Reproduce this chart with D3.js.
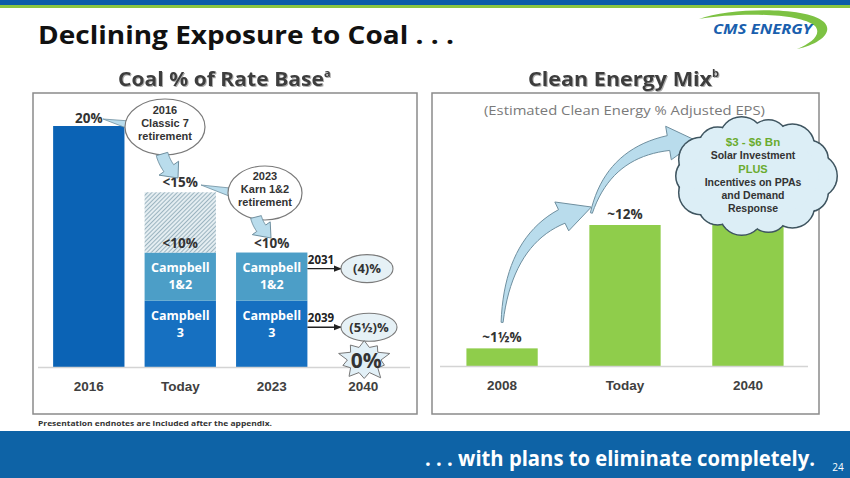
<!DOCTYPE html>
<html>
<head>
<meta charset="utf-8">
<script src="https://cdn.jsdelivr.net/npm/d3@7"></script>
<style>
  body { margin: 0; background: #fff; }
  svg { display: block; font-family: "Open Sans", "DejaVu Sans", sans-serif; }
  .tight { font-family: "Liberation Sans", Arial, sans-serif; }
</style>
</head>
<body>
<svg id="slide" width="850" height="478"></svg>
<script>
// --- data ---
const coalCategories = ["2016", "Today", "2023", "2040"];
const coalOther = [20, 0, 0, 0];          // pre-2016 coal fleet
const coalCampbell3 = [0, 5.5, 5.5, 0];
const coalCampbell12 = [0, 4, 4, 0];
const coalKarn = [0, 5, 0, 0];            // hatched, retires 2023
const coalTopLabels = ["20%", "<15%", "<10%", ""];

const cleanCategories = ["2008", "Today", "2040"];
const cleanValues = [1.5, 12, 15];
const cleanLabels = ["~1\u00BD%", "~12%", ""];

const svg = d3.select("#slide");
const dark = "#333333";
const arrowFill = "#b9dcec";
const arrowStroke = "#6f8f9f";

// hatch pattern
const defs = svg.append("defs");
const hatch = defs.append("pattern")
    .attr("id", "hatch")
    .attr("patternUnits", "userSpaceOnUse")
    .attr("width", 3).attr("height", 3)
    .attr("patternTransform", "rotate(45)");
hatch.append("rect").attr("width", 3).attr("height", 3).attr("fill", "#e4edf1");
hatch.append("line").attr("x1", 0).attr("y1", 0).attr("x2", 0).attr("y2", 3)
    .attr("stroke", "#7c9bab").attr("stroke-width", 1.4);

const shadow = defs.append("filter").attr("id", "tshadow");
shadow.append("feDropShadow").attr("dx", 1).attr("dy", 1).attr("stdDeviation", 0.6)
    .attr("flood-color", "#999").attr("flood-opacity", 0.8);

// --- header ---
svg.append("rect").attr("x", 0).attr("y", 0).attr("width", 850).attr("height", 5).attr("fill", "#0d5ca8");
svg.append("rect").attr("x", 0).attr("y", 5).attr("width", 850).attr("height", 3).attr("fill", "#8cc540");

svg.append("text")
    .attr("x", 38).attr("y", 44)
    .style("font-size", "25px").style("font-weight", "bold").attr("fill", "#111")
    .attr("textLength", 416).attr("lengthAdjust", "spacingAndGlyphs")
    .text("Declining Exposure to Coal . . .");

// logo swoosh
const logo = svg.append("g");
logo.append("path")
    .attr("d", "M699,19 C730,8 805,6 824,22 C834,32 820,44 797,49 C812,43 822,34 815,26 C800,13 738,12 699,19 Z")
    .attr("fill", "#7dc243");
logo.append("text")
    .attr("x", 713).attr("y", 34)
    .style("font-size", "14px").style("font-weight", "bold").style("font-style", "italic")
    .attr("fill", "#1a5fae")
    .attr("textLength", 99).attr("lengthAdjust", "spacingAndGlyphs")
    .text("CMS ENERGY");

// section headings
function heading(x0, width, label, sup) {
    const t = svg.append("text")
        .attr("x", x0).attr("y", 86)
        .attr("filter", "url(#tshadow)")
        .style("font-weight", "bold").attr("fill", "#3d3d3d");
    t.append("tspan").style("font-size", "19px")
        .attr("textLength", width).attr("lengthAdjust", "spacingAndGlyphs").text(label);
    t.append("tspan").attr("dy", -9).style("font-size", "11px").text(sup);
}
heading(118, 206, "Coal % of Rate Base", "a");
heading(528, 184, "Clean Energy Mix", "b");

// panel boxes
[[33, 93, 384, 321], [432, 93, 387, 321]].forEach(([x, y, w, h]) => {
    svg.append("rect").attr("x", x).attr("y", y).attr("width", w).attr("height", h)
        .attr("fill", "#fff").attr("stroke", "#8a8a8a").attr("stroke-width", 1.5);
});

// --- left chart: coal % of rate base ---
const xCoal = d3.scaleBand().domain(coalCategories).range([33, 419]).paddingInner(0.22).paddingOuter(0.22);
const yCoal = d3.scaleLinear().domain([0, 20]).range([367, 126]);

const coalRows = coalCategories.map((c, i) => ({
    cat: c, campbell3: coalCampbell3[i], campbell12: coalCampbell12[i], karn: coalKarn[i], other: coalOther[i]
}));
const coalKeys = ["campbell3", "campbell12", "karn", "other"];
const coalFill = { campbell3: "#1670c1", campbell12: "#4c9ec7", karn: "url(#hatch)", other: "#0b63b5" };
const coalStack = d3.stack().keys(coalKeys)(coalRows);

const gCoal = svg.append("g");
coalStack.forEach(layer => {
    gCoal.selectAll(null).data(layer.filter(d => d[1] > d[0])).enter().append("rect")
        .attr("x", d => xCoal(d.data.cat))
        .attr("width", xCoal.bandwidth())
        .attr("y", d => yCoal(d[1]))
        .attr("height", d => yCoal(d[0]) - yCoal(d[1]))
        .attr("fill", coalFill[layer.key]);
});

// segment labels inside the Campbell blocks
const segNames = { campbell3: "3", campbell12: "1&2" };
coalStack.filter(l => segNames[l.key]).forEach(layer => {
    layer.filter(d => d[1] > d[0]).forEach(d => {
        const cx = xCoal(d.data.cat) + xCoal.bandwidth() / 2;
        const top = yCoal(d[1]);
        [["Campbell", 19], [segNames[layer.key], 36]].forEach(([txt, dy]) => {
            gCoal.append("text").attr("x", cx).attr("y", top + dy)
                .attr("text-anchor", "middle").attr("fill", "#fff")
                .style("font-size", "12.5px").style("font-weight", "bold").text(txt);
        });
    });
});

// total labels
const coalTotals = coalRows.map(r => r.campbell3 + r.campbell12 + r.karn + r.other);
gCoal.selectAll(".tot").data(coalCategories).enter().append("text")
    .attr("x", d => xCoal(d) + xCoal.bandwidth() / 2)
    .attr("y", (d, i) => yCoal(coalTotals[i]) - (i === 0 ? 3 : 5))
    .attr("text-anchor", "middle").attr("fill", dark)
    .style("font-size", "13.5px").style("font-weight", "bold")
    .text((d, i) => coalTopLabels[i]);
// remaining Campbell share inside the hatched Today bar
gCoal.append("text")
    .attr("x", xCoal("Today") + xCoal.bandwidth() / 2)
    .attr("y", yCoal(coalCampbell3[1] + coalCampbell12[1]) - 5)
    .attr("text-anchor", "middle").attr("fill", dark)
    .style("font-size", "13.5px").style("font-weight", "bold").text("<10%");

// baseline + axis
svg.append("line").attr("x1", 38).attr("x2", 410).attr("y1", 367.5).attr("y2", 367.5)
    .attr("stroke", "#d4d4d4").attr("stroke-width", 1.5);
const axCoal = svg.append("g").attr("transform", "translate(0,372)")
    .call(d3.axisBottom(xCoal).tickSize(0).tickPadding(0));
axCoal.select(".domain").remove();
axCoal.selectAll("text").attr("dy", "19px").attr("fill", "#404040")
    .style("font-size", "13.5px").style("font-weight", "bold").style("font-family", "inherit");

// --- generic block arrow along a quadratic curve ---
function blockArrow(p0, c, p1, w0, w1, headW, tb) {
    const B = t => [
        (1 - t) * (1 - t) * p0[0] + 2 * (1 - t) * t * c[0] + t * t * p1[0],
        (1 - t) * (1 - t) * p0[1] + 2 * (1 - t) * t * c[1] + t * t * p1[1]
    ];
    const D = t => [
        2 * (1 - t) * (c[0] - p0[0]) + 2 * t * (p1[0] - c[0]),
        2 * (1 - t) * (c[1] - p0[1]) + 2 * t * (p1[1] - c[1])
    ];
    const left = [], right = [];
    d3.range(0, 21).forEach(k => {
        const t = tb * k / 20;
        const p = B(t), d = D(t);
        const len = Math.hypot(d[0], d[1]);
        const n = [-d[1] / len, d[0] / len];
        const w = (w0 + (w1 - w0) * k / 20) / 2;
        left.push([p[0] + n[0] * w, p[1] + n[1] * w]);
        right.push([p[0] - n[0] * w, p[1] - n[1] * w]);
    });
    const pb = B(tb), db = D(tb);
    const lb = Math.hypot(db[0], db[1]);
    const nb = [-db[1] / lb, db[0] / lb];
    const pts = left.concat([
        [pb[0] + nb[0] * headW / 2, pb[1] + nb[1] * headW / 2],
        p1,
        [pb[0] - nb[0] * headW / 2, pb[1] - nb[1] * headW / 2]
    ], right.reverse());
    svg.append("path").attr("d", d3.line()(pts) + "Z")
        .attr("fill", arrowFill).attr("stroke", arrowStroke).attr("stroke-width", 1)
        .attr("stroke-linejoin", "round");
}

// callout pointer wedge
function wedge(tip, a, b) {
    svg.append("path").attr("d", d3.line()([tip, a, b]) + "Z")
        .attr("fill", arrowFill).attr("stroke", arrowStroke).attr("stroke-width", 0.8);
}
function callout(cx, cy, rx, ry, lines) {
    svg.append("ellipse").attr("cx", cx).attr("cy", cy).attr("rx", rx).attr("ry", ry)
        .attr("fill", "#fff").attr("stroke", "#7a7a7a").attr("stroke-width", 1.2);
    lines.forEach((t, i) => {
        svg.append("text").attr("class", "tight")
            .attr("x", cx).attr("y", cy - 7 + (i - 0.5) * 13)
            .attr("text-anchor", "middle").attr("fill", dark)
            .style("font-size", "11px").style("font-weight", "bold").text(t);
    });
}

wedge([103, 119], [130, 121], [129, 129]);
callout(165, 127, 40, 28, ["2016", "Classic 7", "retirement"]);
blockArrow([162, 154], [166, 168], [178, 178], 12, 12, 24, 0.55);

wedge([201, 185], [230, 188], [229, 196]);
callout(265, 193, 37, 27, ["2023", "Karn 1&2", "retirement"]);
blockArrow([256, 217], [259, 229], [271, 238], 11, 11, 22, 0.5);

// retirement arrows to small ellipses
const xEnd = xCoal("2023") + xCoal.bandwidth();
const retire = [
    { year: "2031", y: yCoal(coalCampbell3[2] + coalCampbell12[2] / 2) - 8, label: "(4)%", rx: 26 },
    { year: "2039", y: yCoal(coalCampbell3[2] * 0.6), label: "(5\u00BD)%", rx: 28 }
];
defs.append("marker").attr("id", "ah").attr("viewBox", "0 0 10 10")
    .attr("refX", 9).attr("refY", 5).attr("markerWidth", 6).attr("markerHeight", 6).attr("orient", "auto")
    .append("path").attr("d", "M0,1 L10,5 L0,9 Z").attr("fill", "#222");
retire.forEach(r => {
    svg.append("line").attr("x1", xEnd).attr("x2", 341).attr("y1", r.y).attr("y2", r.y)
        .attr("stroke", "#222").attr("stroke-width", 1.3).attr("marker-end", "url(#ah)");
    svg.append("text").attr("x", 321).attr("y", r.y - 5).attr("text-anchor", "middle").attr("fill", "#222")
        .style("font-size", "11.5px").style("font-weight", "bold").text(r.year);
    svg.append("ellipse").attr("cx", 341 + r.rx).attr("cy", r.y).attr("rx", r.rx).attr("ry", 14)
        .attr("fill", "#e6f1f6").attr("stroke", "#7a7a7a").attr("stroke-width", 1.1);
    svg.append("text").attr("x", 341 + r.rx).attr("y", r.y + 4.5).attr("text-anchor", "middle").attr("fill", dark)
        .style("font-size", "13px").style("font-weight", "bold").text(r.label);
});

// starburst 0%
const burstCx = xCoal("2040") + xCoal.bandwidth() / 2 + 1, burstCy = 360;
const burstR = [22, 15, 20, 15, 24, 15, 19, 15, 25, 15, 21, 15, 23, 15, 20, 15, 24, 15, 21, 15];
const burstPts = burstR.map((r, i) => {
    const a = (i / burstR.length) * 2 * Math.PI - Math.PI / 2;
    return [burstCx + Math.cos(a) * r * 1.12, burstCy + Math.sin(a) * r * 0.88];
});
svg.append("path").attr("d", d3.line()(burstPts) + "Z")
    .attr("fill", "#e2f0f7").attr("stroke", "#777").attr("stroke-width", 1);
svg.append("text").attr("x", burstCx + 2).attr("y", burstCy + 8).attr("text-anchor", "middle").attr("fill", dark)
    .style("font-size", "21px").style("font-weight", "bold").text("0%");

// --- right chart: clean energy mix ---
const xClean = d3.scaleBand().domain(cleanCategories).range([432, 818]).paddingInner(0.42).paddingOuter(0.28);
const yClean = d3.scaleLinear().domain([0, 12]).range([366, 225]);

svg.append("text").attr("x", 484).attr("y", 115)
    .attr("fill", "#7a7a7a").style("font-size", "13.5px")
    .attr("textLength", 281).attr("lengthAdjust", "spacingAndGlyphs")
    .text("(Estimated Clean Energy % Adjusted  EPS)");

svg.append("g").selectAll("rect").data(cleanCategories).enter().append("rect")
    .attr("x", d => xClean(d))
    .attr("width", xClean.bandwidth())
    .attr("y", (d, i) => yClean(cleanValues[i]))
    .attr("height", (d, i) => yClean(0) - yClean(cleanValues[i]))
    .attr("fill", "#8fcd4b");

svg.append("g").selectAll("text").data(cleanCategories).enter().append("text")
    .attr("x", d => xClean(d) + xClean.bandwidth() / 2)
    .attr("y", (d, i) => yClean(cleanValues[i]) - 6)
    .attr("text-anchor", "middle").attr("fill", dark)
    .style("font-size", "13.5px").style("font-weight", "bold")
    .text((d, i) => cleanLabels[i]);

svg.append("line").attr("x1", 440).attr("x2", 808).attr("y1", 366.5).attr("y2", 366.5)
    .attr("stroke", "#d4d4d4").attr("stroke-width", 1.5);
const axClean = svg.append("g").attr("transform", "translate(0,371)")
    .call(d3.axisBottom(xClean).tickSize(0).tickPadding(0));
axClean.select(".domain").remove();
axClean.selectAll("text").attr("dy", "19px").attr("fill", "#404040")
    .style("font-size", "13.5px").style("font-weight", "bold").style("font-family", "inherit");

// growth arrows
const cx08 = xClean("2008") + xClean.bandwidth() / 2;
const cxToday = xClean("Today");
blockArrow([cx08, yClean(cleanValues[0]) - 26], [cx08 + 8, 222], [cxToday + 2, 207], 2, 15, 32, 0.8);
blockArrow([cxToday + 2, 213], [612, 140], [697, 141], 2, 15, 34, 0.82);

// cloud
const cloud = svg.append("g");
const cloudCx = 755, cloudCy = 176;
const puffs = d3.range(14).map(i => {
    const a = i / 14 * 2 * Math.PI;
    return [cloudCx + Math.cos(a) * 60, cloudCy + Math.sin(a) * 38, i % 2 ? 19 : 22];
});
cloud.selectAll(".o").data(puffs).enter().append("circle")
    .attr("cx", d => d[0]).attr("cy", d => d[1]).attr("r", d => d[2])
    .attr("fill", "#dceef6").attr("stroke", "#3f5560").attr("stroke-width", 2);
cloud.selectAll(".i").data(puffs).enter().append("circle")
    .attr("cx", d => d[0]).attr("cy", d => d[1]).attr("r", d => d[2] - 0.5)
    .attr("fill", "#dceef6");
cloud.append("ellipse").attr("cx", cloudCx).attr("cy", cloudCy).attr("rx", 64).attr("ry", 42).attr("fill", "#dceef6");

const cloudLines = [
    ["$3 - $6 Bn", "#6aab2e", 11.5, 146],
    ["Solar Investment", "#333", 10.5, 159],
    ["PLUS", "#6aab2e", 11, 172.5],
    ["Incentives on PPAs", "#333", 10.5, 186],
    ["and Demand", "#333", 10.5, 199],
    ["Response", "#333", 10.5, 212]
];
cloudLines.forEach(([t, col, fs, y]) => {
    cloud.append("text").attr("class", "tight")
        .attr("x", 753).attr("y", y).attr("text-anchor", "middle")
        .attr("fill", col).style("font-size", fs + "px").style("font-weight", "bold").text(t);
});

// --- footer ---
svg.append("text").attr("x", 38).attr("y", 426).attr("fill", "#333")
    .style("font-size", "7.5px").style("font-weight", "bold")
    .attr("textLength", 234).attr("lengthAdjust", "spacingAndGlyphs")
    .text("Presentation endnotes are included after the appendix.");
svg.append("rect").attr("x", 0).attr("y", 431).attr("width", 850).attr("height", 47).attr("fill", "#0e63a6");
svg.append("text").attr("x", 425).attr("y", 466).attr("fill", "#fff")
    .style("font-size", "21px").style("font-weight", "bold")
    .attr("textLength", 390).attr("lengthAdjust", "spacingAndGlyphs")
    .text(". . . with plans to eliminate completely.");
svg.append("text").attr("x", 838).attr("y", 471).attr("text-anchor", "middle").attr("fill", "#fff")
    .style("font-size", "10px").text("24");
</script>
</body>
</html>
